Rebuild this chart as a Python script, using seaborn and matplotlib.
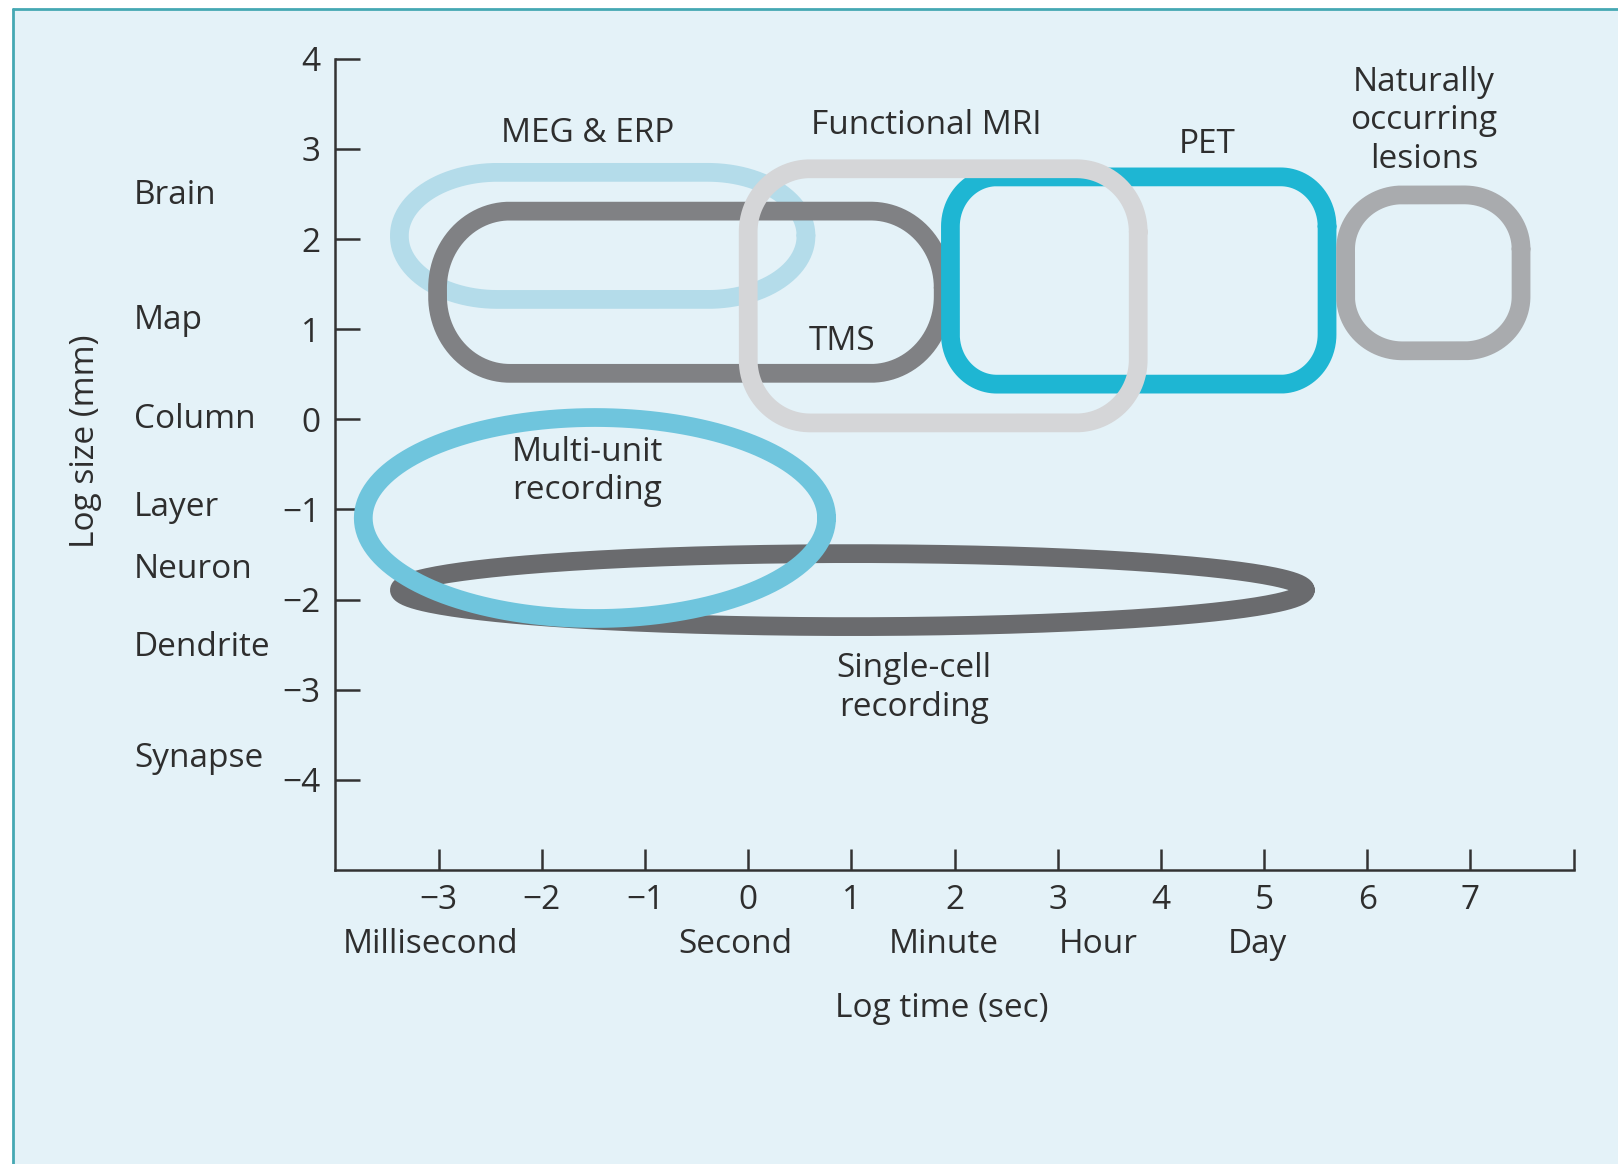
import numpy as np
import matplotlib.pyplot as plt
import seaborn as sns
from matplotlib.transforms import blended_transform_factory
from matplotlib.patches import Rectangle
from matplotlib.lines import Line2D

# ranges covered by each technique, read at the centre of each band
# (log time in sec, log size in mm); drawing order = stacking order
techniques = ["MEG & ERP", "TMS", "PET", "Functional MRI",
              "Naturally occurring lesions", "Single-cell recording", "Multi-unit recording"]
time_lo = [-3.38, -3.01, 1.96, 0.00, 5.79, -3.38, -3.73]
time_hi = [0.56, 1.89, 5.61, 3.78, 7.49, 5.40, 0.76]
size_lo = [1.33, 0.51, 0.39, -0.04, 0.76, -2.30, -2.21]
size_hi = [2.74, 2.31, 2.69, 2.78, 2.49, -1.49, 0.02]

label_text = ["MEG & ERP", "TMS", "PET", "Functional MRI",
              "Naturally\noccurring\nlesions", "Single-cell\nrecording", "Multi-unit\nrecording"]
label_x = [-1.56, 0.91, 4.45, 1.73, 6.55, 1.61, -1.56]
label_y = [3.17, 0.86, 3.05, 3.26, 3.31, -2.98, -0.58]

size_names = ["Brain", "Map", "Column", "Layer", "Neuron", "Dendrite", "Synapse"]
size_name_y = [2.48, 1.10, 0.0, -0.98, -1.67, -2.53, -3.76]

time_names = ["Millisecond", "Second", "Minute", "Hour", "Day"]
time_name_x = [-3.08, -0.12, 1.90, 3.39, 4.94]

x_ticks = list(range(-3, 9))
x_ticklabels = ["\u22123", "\u22122", "\u22121", "0", "1", "2", "3", "4", "5", "6", "7", ""]
y_ticks = list(range(-4, 5))
y_ticklabels = ["\u22124", "\u22123", "\u22122", "\u22121", "0", "1", "2", "3", "4"]

# look of each outline
colors = ["#b4dcea", "#808184", "#1eb6d3", "#d5d6d8", "#a9abae", "#6a6b6e", "#6fc5dd"]
corner_rx = [0.95, 0.7, 0.45, 0.6, 0.55, None, None]   # None -> plain ellipse
corner_ry = [0.70, 0.85, 0.55, 0.7, 0.60, None, None]

BG = "#e4f2f8"
TEXT = "#2e2e2e"
FS = 24


def outline(x0, x1, y0, y1, rx=None, ry=None, n=80):
    if rx is None:
        t = np.linspace(0, 2 * np.pi, 4 * n + 1)
        cx, cy = (x0 + x1) / 2, (y0 + y1) / 2
        return cx + (x1 - x0) / 2 * np.cos(t), cy + (y1 - y0) / 2 * np.sin(t)
    rx = min(rx, (x1 - x0) / 2)
    ry = min(ry, (y1 - y0) / 2)
    t = np.linspace(0, np.pi / 2, n)
    xs, ys = [], []
    for q, (cx, cy) in enumerate([(x1 - rx, y1 - ry), (x0 + rx, y1 - ry),
                                  (x0 + rx, y0 + ry), (x1 - rx, y0 + ry)]):
        a = t + q * np.pi / 2
        xs.append(cx + rx * np.cos(a))
        ys.append(cy + ry * np.sin(a))
    xs = np.concatenate(xs)
    ys = np.concatenate(ys)
    return np.append(xs, xs[0]), np.append(ys, ys[0])


sns.set_theme(style="white")
plt.rcParams['font.family'] = ['Open Sans', 'DejaVu Sans']
plt.rcParams['text.color'] = TEXT

fig = plt.figure(figsize=(16.18, 11.64), dpi=100, facecolor="white")
fig.patches.append(Rectangle((13 / 1618, 0), 1, 1 - 9 / 1164, transform=fig.transFigure,
                             facecolor=BG, edgecolor="none", zorder=-10))
fig.lines.append(Line2D([13 / 1618, 1], [1 - 9 / 1164] * 2, transform=fig.transFigure,
                        color="#45a8b3", lw=2))
fig.lines.append(Line2D([13 / 1618] * 2, [0, 1 - 9 / 1164], transform=fig.transFigure,
                        color="#45a8b3", lw=2))

ax = fig.add_axes([0.2073, 0.2526, 0.7653, 0.6969])
ax.set_facecolor("none")

for i, name in enumerate(techniques):
    xs, ys = outline(time_lo[i], time_hi[i], size_lo[i], size_hi[i],
                     corner_rx[i], corner_ry[i])
    sns.lineplot(x=xs, y=ys, sort=False, estimator=None, ax=ax, color=colors[i],
                 linewidth=13.5, solid_joinstyle="round", solid_capstyle="round",
                 zorder=2 + i)
    ax.text(label_x[i], label_y[i], label_text[i], ha="center", va="center",
            fontsize=FS, linespacing=1.22, zorder=20)

ax.set_xlim(-4, 8)
ax.set_ylim(-5, 4)
sns.despine(ax=ax)
for side in ["left", "bottom"]:
    ax.spines[side].set_color("#333333")
    ax.spines[side].set_linewidth(1.8)

ax.set_xticks(x_ticks, x_ticklabels)
ax.set_yticks(y_ticks, y_ticklabels)
ax.tick_params(axis="x", bottom=True, direction="in", length=15, width=1.8, pad=10,
               labelsize=FS, color="#333333", labelcolor=TEXT)
ax.tick_params(axis="y", left=True, direction="in", length=18, width=1.8, pad=11,
               labelsize=FS, color="#333333", labelcolor=TEXT)
for tick in ax.xaxis.get_major_ticks() + ax.yaxis.get_major_ticks():
    tick.tick1line.set_clip_on(False)
ax.set_xlabel("")
ax.set_ylabel("")

fig_x = blended_transform_factory(fig.transFigure, ax.transData)
for name, y in zip(size_names, size_name_y):
    ax.text(134 / 1618, y, name, transform=fig_x, ha="left", va="center", fontsize=FS)
ax.text(85 / 1618, -0.24, "Log size (mm)", transform=fig_x, rotation=90,
        ha="center", va="center", fontsize=FS)

for name, x in zip(time_names, time_name_x):
    ax.text(x, -5.83, name, ha="center", va="center", fontsize=FS, clip_on=False)
ax.text(1.88, -6.54, "Log time (sec)", ha="center", va="center", fontsize=FS, clip_on=False)

fig.savefig("out.png", dpi=100, facecolor=fig.get_facecolor())
